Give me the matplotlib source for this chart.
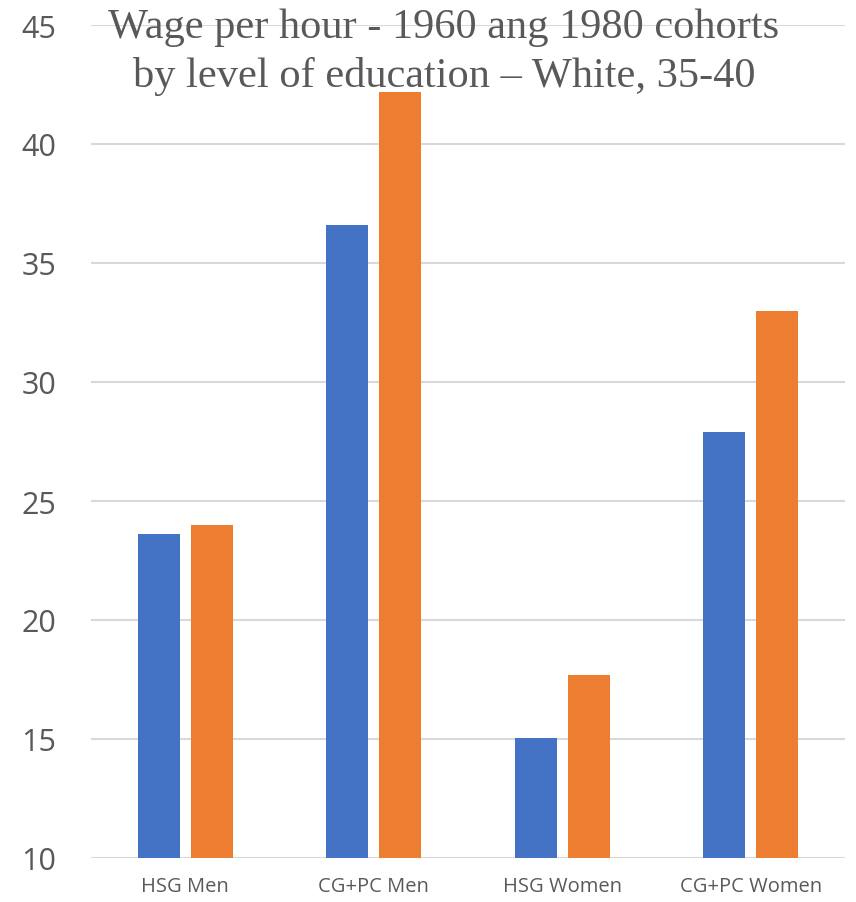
import numpy as np
import matplotlib.pyplot as plt

categories = ['HSG Men', 'CG+PC Men', 'HSG Women', 'CG+PC Women']
cohort_1960 = [23.6, 36.6, 15.05, 27.9]
cohort_1980 = [24.0, 42.2, 17.7, 33.0]
yticks = [10, 15, 20, 25, 30, 35, 40, 45]

blue = '#4472C4'
orange = '#ED7D31'
gray_txt = '#595959'
grid_col = '#D9D9D9'

fig = plt.figure(figsize=(8.56, 9.03), dpi=100)
ax = fig.add_axes([91/856, 1-859/903, 754/856, 833/903])

x = np.arange(len(categories))
w = 0.222
off = 0.14
ax.bar(x - off, np.array(cohort_1960) - 10, w, bottom=10, color=blue, zorder=3)
ax.bar(x + off, np.array(cohort_1980) - 10, w, bottom=10, color=orange, zorder=3)

ax.set_xlim(-0.5, len(categories) - 0.5)
ax.set_ylim(10, 45)
ax.set_yticks(yticks)
ax.set_xticks(x)
ax.set_xticklabels(categories, fontsize=14.5, color=gray_txt, family=['Open Sans', 'DejaVu Sans'])
ax.set_yticklabels([str(v) for v in yticks], fontsize=22, color=gray_txt, family=['Open Sans', 'DejaVu Sans'])
ax.tick_params(length=0)
ax.tick_params(axis='x', pad=13)
ax.tick_params(axis='y', pad=25)

ax.grid(axis='y', color=grid_col, linewidth=1.5, zorder=0)
for s in ax.spines.values():
    s.set_visible(False)

title_font = dict(ha='center', va='center', fontsize=30.5, color=gray_txt,
                  family=['Liberation Serif', 'DejaVu Serif'])
fig.text(444/856, 1-28/903, 'Wage per hour - 1960 ang 1980 cohorts', **title_font)
fig.text(444/856, 1-76/903, 'by level of education \u2013 White, 35-40', **title_font)

fig.savefig('out.png', dpi=100)
